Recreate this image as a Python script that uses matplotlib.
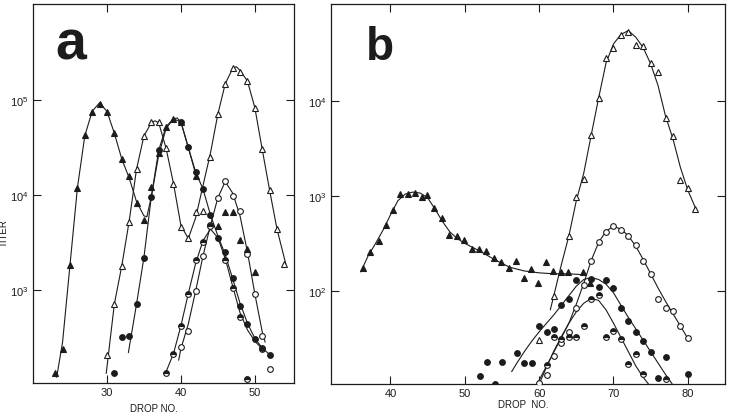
import numpy as np
import matplotlib
matplotlib.use("Agg")
import matplotlib.pyplot as plt
from matplotlib.ticker import FixedLocator, NullLocator

plt.rcParams['font.family'] = ['Liberation Sans', 'DejaVu Sans']
plt.rcParams['mathtext.default'] = 'regular'

INK = '#1c1c1c'

# ---------------- Panel a (values are log10 of titer) ----------------
a_ftri_x = [23, 24, 25, 26, 27, 28, 29, 30, 31, 32, 33, 34, 35, 36, 37, 38, 39, 40, 42]
a_ftri_log = [2.13, 2.38, 3.26, 4.07, 4.63, 4.87, 4.96, 4.87, 4.65, 4.38, 4.20, 3.92, 3.74,
              4.08, 4.44, 4.72, 4.80, 4.77, 4.20]
a_ftri_curve_x = [23.2, 24, 25, 26, 27, 28, 29, 30, 31, 32, 33, 34, 35, 35.4, 36, 37, 38, 39, 39.5, 40, 41, 42]
a_ftri_curve_log = [2.08, 2.45, 3.26, 4.07, 4.62, 4.88, 4.97, 4.88, 4.65, 4.38, 4.18, 3.93, 3.78, 3.77,
                    3.98, 4.42, 4.70, 4.80, 4.81, 4.77, 4.50, 4.22]
a_ftri_late_x = [45, 46, 47, 48, 49, 50]
a_ftri_late_log = [3.67, 3.82, 3.82, 3.53, 3.43, 3.19]

a_fcirc_x = [31, 32, 33, 34, 35, 36, 37, 40, 41, 42, 43, 44, 45, 46, 47, 48, 49, 50, 51, 52]
a_fcirc_log = [2.13, 2.50, 2.51, 2.85, 3.34, 3.98, 4.47, 4.77, 4.50, 4.24, 4.06, 3.79, 3.55,
               3.40, 3.13, 2.83, 2.64, 2.48, 2.39, 2.31]
a_fcirc_curve_x = [32.9, 34, 35, 36, 37, 38, 39, 40, 41, 42, 43, 44, 45, 46, 47, 48, 49, 50, 51, 52.4]
a_fcirc_curve_log = [2.34, 2.85, 3.34, 3.98, 4.47, 4.72, 4.80, 4.77, 4.50, 4.24, 4.06, 3.79, 3.57,
                     3.37, 3.12, 2.86, 2.65, 2.49, 2.39, 2.29]

a_otri_x = [30, 31, 32, 33, 34, 35, 36, 37, 38, 39, 40, 41, 42, 43, 44, 45, 46, 47, 48, 49,
            50, 51, 52, 53, 54]
a_otri_log = [2.31, 2.85, 3.25, 3.72, 4.27, 4.62, 4.77, 4.77, 4.49, 4.12, 3.66, 3.55, 3.82,
              3.83, 4.40, 4.85, 5.17, 5.34, 5.29, 5.20, 4.92, 4.48, 4.05, 3.64, 3.27]
a_otri_curve_x = [29.9, 31, 32, 33, 34, 35, 36, 36.5, 37, 38, 39, 40, 41, 42, 43, 44, 45, 46,
                  47, 47.5, 48, 49, 50, 51, 52, 53, 54.2]
a_otri_curve_log = [2.12, 2.85, 3.25, 3.72, 4.27, 4.62, 4.76, 4.78, 4.76, 4.49, 4.12, 3.68, 3.54,
                    3.76, 4.10, 4.44, 4.85, 5.17, 5.33, 5.35, 5.31, 5.20, 4.92, 4.48, 4.05, 3.64, 3.27]

a_ocirc_x = [40, 41, 42, 43, 44, 45, 46, 47, 48, 49, 50, 51, 52]
a_ocirc_log = [2.40, 2.57, 2.99, 3.36, 3.68, 3.97, 4.15, 3.99, 3.83, 3.38, 2.96, 2.52, 2.17]
a_ocirc_curve_x = [39.7, 40, 41, 42, 43, 44, 45, 46, 47, 48, 49, 50, 51, 51.4]
a_ocirc_curve_log = [2.26, 2.38, 2.64, 2.99, 3.36, 3.68, 3.97, 4.14, 4.02, 3.78, 3.40, 2.96, 2.56, 2.45]

a_hcirc_x = [38, 39, 40, 41, 42, 43, 44, 46, 47, 48, 49, 51]
a_hcirc_log = [2.13, 2.33, 2.62, 2.96, 3.31, 3.50, 3.67, 3.31, 3.02, 2.72, 2.06, 2.38]
a_hcirc_curve_x = [37.8, 39, 40, 41, 42, 43, 44, 45, 46, 47, 48, 49, 50, 51]
a_hcirc_curve_log = [2.10, 2.33, 2.62, 2.96, 3.28, 3.52, 3.64, 3.55, 3.33, 3.04, 2.76, 2.58, 2.46, 2.38]

# ---------------- Panel b ----------------
b_ftri_x = [36.3, 37.2, 38.4, 39.4, 40.3, 41.3, 42.3, 43.3, 44.3, 44.9, 45.9, 46.9, 47.9, 48.9,
            49.9, 50.9, 51.9, 52.9, 53.9, 54.9, 55.9, 56.9, 57.9, 58.9, 59.9, 60.9, 61.9, 62.9,
            63.9, 65.9, 66.9]
b_ftri_log = [2.24, 2.41, 2.52, 2.69, 2.85, 3.02, 3.02, 3.03, 2.99, 3.01, 2.87, 2.77, 2.59, 2.58,
              2.54, 2.44, 2.44, 2.42, 2.35, 2.30, 2.24, 2.32, 2.14, 2.23, 2.08, 2.30, 2.21, 2.20,
              2.20, 2.20, 2.08]
b_ftri_curve_x = [36.0, 37, 38, 39, 40, 41, 42, 43, 44, 45, 46, 47, 48, 49, 50, 52, 54, 56, 58,
                  60, 62, 64, 66]
b_ftri_curve_log = [2.20, 2.37, 2.50, 2.64, 2.80, 2.95, 3.02, 3.04, 3.03, 2.98, 2.86, 2.73, 2.62,
                    2.55, 2.50, 2.42, 2.33, 2.25, 2.21, 2.19, 2.18, 2.18, 2.17]

b_otri_x = [60, 62, 64, 65, 66, 67, 68, 69, 70, 71, 72, 73, 74, 75, 76, 77, 78, 79, 80, 81]
b_otri_log = [1.48, 1.95, 2.58, 2.99, 3.18, 3.64, 4.03, 4.45, 4.56, 4.69, 4.73, 4.59, 4.58, 4.40,
              4.30, 3.82, 3.63, 3.17, 3.08, 2.86]
b_otri_curve_x = [61.5, 62, 63, 64, 65, 66, 67, 68, 69, 70, 71, 72, 73, 74, 75, 76, 77, 78, 79,
                  80, 81.1]
b_otri_curve_log = [1.80, 1.96, 2.28, 2.58, 2.95, 3.24, 3.64, 4.03, 4.40, 4.60, 4.70, 4.74, 4.67,
                    4.56, 4.39, 4.16, 3.84, 3.60, 3.30, 3.06, 2.86]

b_ocirc_x = [60, 61, 62, 63, 64, 65, 66, 67, 68, 69, 70, 71, 72, 73, 74, 75, 76, 77, 78, 79, 80]
b_ocirc_log = [1.03, 1.11, 1.31, 1.45, 1.57, 1.82, 2.06, 2.32, 2.51, 2.62, 2.68, 2.64, 2.58, 2.48,
               2.32, 2.18, 1.92, 1.82, 1.79, 1.63, 1.50]
b_ocirc_curve_x = [59.6, 60, 61, 62, 63, 64, 65, 66, 67, 68, 69, 70, 71, 72, 73, 74, 75, 76, 77,
                   78, 79, 80]
b_ocirc_curve_log = [1.00, 1.06, 1.21, 1.36, 1.51, 1.66, 1.86, 2.08, 2.32, 2.51, 2.63, 2.68, 2.65,
                     2.58, 2.47, 2.33, 2.18, 2.03, 1.89, 1.76, 1.63, 1.50]

b_fcirc_x = [52, 53, 54, 55, 57, 58, 59, 60, 61, 62, 63, 64, 65, 67, 68, 69, 70, 71, 72, 73, 74,
             75, 76, 77, 80]
b_fcirc_log = [1.10, 1.25, 1.02, 1.25, 1.35, 1.24, 1.24, 1.63, 1.57, 1.60, 1.85, 1.92, 2.12, 2.13,
               2.04, 2.12, 2.03, 1.82, 1.68, 1.57, 1.47, 1.36, 1.08, 1.30, 1.13]
b_fcirc_curve_x = [56.3, 57, 58, 59, 60, 61, 62, 63, 64, 65, 66, 67, 68, 69, 70, 71, 72, 73, 74,
                   75, 76, 77, 77.9]
b_fcirc_curve_log = [1.15, 1.24, 1.36, 1.47, 1.57, 1.66, 1.75, 1.85, 1.95, 2.05, 2.12, 2.14, 2.12,
                     2.07, 1.98, 1.85, 1.72, 1.60, 1.48, 1.36, 1.24, 1.12, 1.02]

b_hcirc_x = [61, 62, 63, 64, 65, 66, 67, 68, 69, 70, 71, 72, 73, 74, 77]
b_hcirc_log = [1.22, 1.52, 1.49, 1.52, 1.52, 1.63, 1.91, 1.96, 1.51, 1.58, 1.49, 1.23, 1.34, 1.13, 1.07]
b_hcirc_curve_x = [60.0, 61, 62, 63, 64, 65, 66, 67, 68, 69, 70, 71, 72, 73, 74, 74.9]
b_hcirc_curve_log = [1.02, 1.20, 1.37, 1.52, 1.66, 1.78, 1.87, 1.92, 1.90, 1.80, 1.66, 1.51, 1.36,
                     1.21, 1.09, 1.00]

a_xticks = [30, 40, 50]
a_yticks_exp = [3, 4, 5]
b_xticks = [40, 50, 60, 70, 80]
b_yticks_exp = [2, 3, 4]

MS = 4.1


def curve(ax, x, lg):
    ax.plot(x, 10 ** np.asarray(lg), color=INK, lw=0.8, zorder=2, solid_capstyle='round')


def pts(ax, x, lg, marker, kind):
    kw = dict(linestyle='none', marker=marker, ms=MS, mec=INK, mew=0.8, zorder=3)
    if kind == 'filled':
        kw.update(mfc=INK)
    elif kind == 'open':
        kw.update(mfc='white')
    else:
        kw.update(mfc=INK, fillstyle='top', markerfacecoloralt='white')
    ax.plot(x, 10 ** np.asarray(lg), **kw)


def style(ax, xlim, ylim_exp, xticks, yexp):
    ax.set_yscale('log')
    ax.set_xlim(*xlim)
    ax.set_ylim(10 ** ylim_exp[0], 10 ** ylim_exp[1])
    ax.xaxis.set_major_locator(FixedLocator(xticks))
    ax.set_xticklabels([str(t) for t in xticks])
    ax.yaxis.set_major_locator(FixedLocator([10.0 ** e for e in yexp]))
    ax.yaxis.set_minor_locator(NullLocator())
    ax.set_yticklabels([r'$10^{%d}$' % e for e in yexp])
    ax.tick_params(which='major', direction='in', top=True, right=True, length=6,
                   width=0.8, color=INK, labelsize=8, labelcolor=INK, pad=3)
    for s in ax.spines.values():
        s.set_linewidth(0.9)
        s.set_color(INK)


fig = plt.figure(figsize=(7.33, 4.14), dpi=100)
axa = fig.add_axes([33 / 733, 30 / 414, 261 / 733, 379 / 414])
axb = fig.add_axes([331 / 733, 29 / 414, 394 / 733, 380 / 414])

# panel a
curve(axa, a_ftri_curve_x, a_ftri_curve_log)
curve(axa, a_fcirc_curve_x, a_fcirc_curve_log)
curve(axa, a_otri_curve_x, a_otri_curve_log)
curve(axa, a_ocirc_curve_x, a_ocirc_curve_log)
curve(axa, a_hcirc_curve_x, a_hcirc_curve_log)
pts(axa, a_otri_x, a_otri_log, '^', 'open')
pts(axa, a_ocirc_x, a_ocirc_log, 'o', 'open')
pts(axa, a_hcirc_x, a_hcirc_log, 'o', 'half')
pts(axa, a_fcirc_x, a_fcirc_log, 'o', 'filled')
pts(axa, a_ftri_x, a_ftri_log, '^', 'filled')
pts(axa, a_ftri_late_x, a_ftri_late_log, '^', 'filled')
style(axa, (20, 55.3), (2.02, 6.01), a_xticks, a_yticks_exp)

# panel b
curve(axb, b_ftri_curve_x, b_ftri_curve_log)
curve(axb, b_otri_curve_x, b_otri_curve_log)
curve(axb, b_ocirc_curve_x, b_ocirc_curve_log)
curve(axb, b_fcirc_curve_x, b_fcirc_curve_log)
curve(axb, b_hcirc_curve_x, b_hcirc_curve_log)
pts(axb, b_otri_x, b_otri_log, '^', 'open')
pts(axb, b_ocirc_x, b_ocirc_log, 'o', 'open')
pts(axb, b_hcirc_x, b_hcirc_log, 'o', 'half')
pts(axb, b_fcirc_x, b_fcirc_log, 'o', 'filled')
pts(axb, b_ftri_x, b_ftri_log, '^', 'filled')
style(axb, (32, 85), (1.02, 5.02), b_xticks, b_yticks_exp)

# panel letters
axa.text(0.146, 0.894, 'a', transform=axa.transAxes, fontsize=40, fontweight='bold',
         ha='center', va='center', color=INK, family=['Liberation Sans', 'DejaVu Sans'])
axb.text(0.124, 0.887, 'b', transform=axb.transAxes, fontsize=33, fontweight='bold',
         ha='center', va='center', color=INK, family=['Liberation Sans', 'DejaVu Sans'])

# axis labels
fig.text(154 / 733, 1 - 409 / 414, 'DROP NO.', fontsize=7, ha='center', va='center', color=INK)
fig.text(523 / 733, 1 - 405 / 414, 'DROP  NO.', fontsize=7, ha='center', va='center', color=INK)
fig.text(4 / 733, 1 - 233 / 414, 'TITER', fontsize=7, rotation=90, ha='center', va='center',
         color=INK)

fig.savefig('out.png', dpi=100, facecolor='white')
